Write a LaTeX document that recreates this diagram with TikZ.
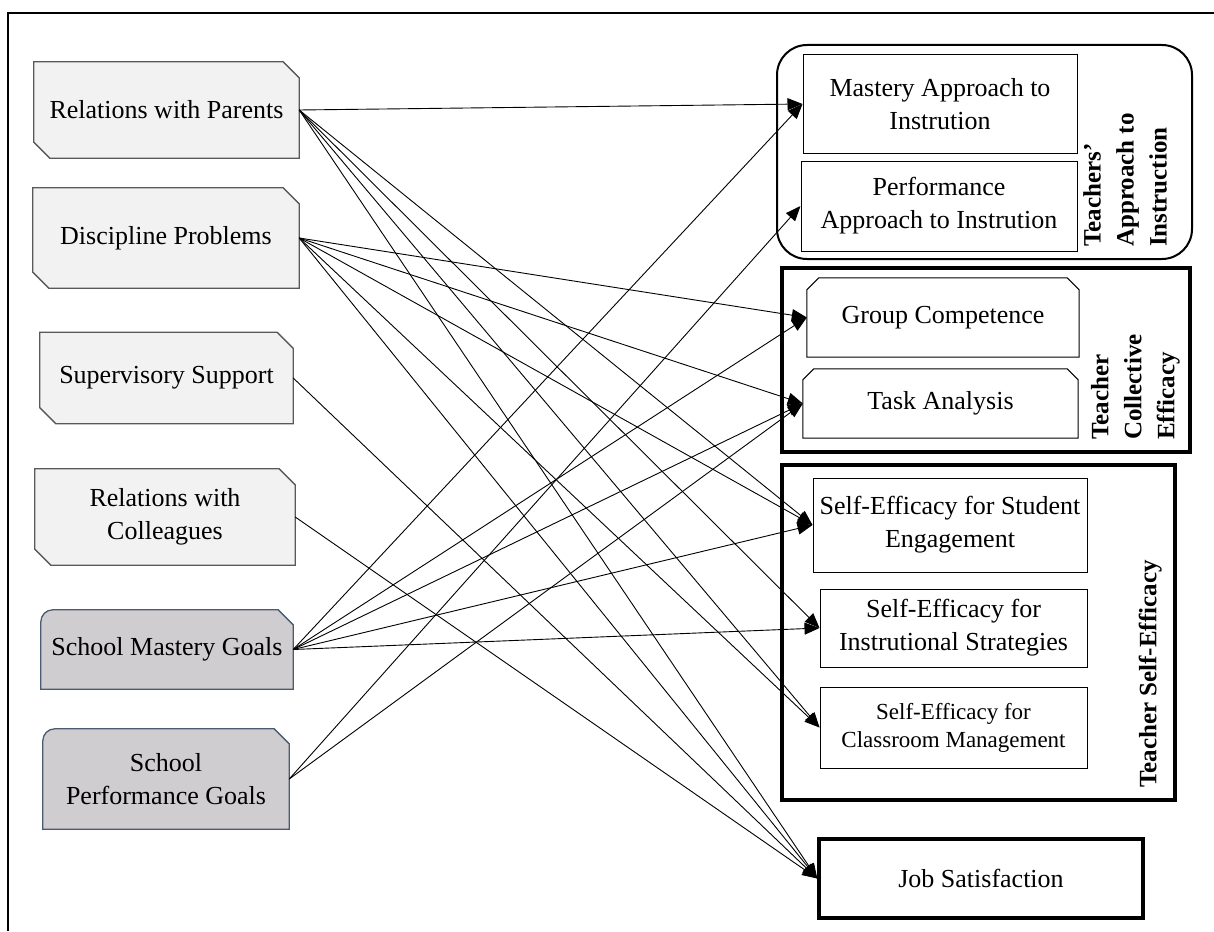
\documentclass[tikz,border=0pt]{standalone}
\usepackage{fontspec}
\setmainfont{Liberation Serif}
\usetikzlibrary{arrows.meta,positioning,backgrounds}
\definecolor{CauseFill}{HTML}{F2F2F2}
\definecolor{CauseLine}{HTML}{595959}
\definecolor{GoalFill}{HTML}{CFCDCF}
\definecolor{GoalLine}{HTML}{4A5A70}
\tikzset{
  cause/.style={rectangle, inner sep=0pt, align=center, font=\fontsize{26}{33}\selectfont},
  causeshape/.style={draw=CauseLine, fill=CauseFill, line width=1.3pt},
  goalshape/.style={draw=GoalLine, fill=GoalFill, line width=1.3pt},
  outbox/.style={rectangle, draw, line width=1pt, inner sep=0pt, align=center, font=\fontsize{26}{33}\selectfont},
  groupframe/.style={draw, line width=4.5pt},
  grouplabel/.style={rotate=90, anchor=south west, inner sep=0pt, align=left, font=\bfseries\fontsize{25}{33}\selectfont},
  conn/.style={-{Triangle[length=15pt,width=12pt]}, line width=0.9pt},
}
\begin{document}
\begin{tikzpicture}[x=1pt,y=-1pt]
  \useasboundingbox (0,0) rectangle (1214,931);
  \draw[line width=2pt] (8,931) -- (8,13) -- (1214,13);

  % antecedents
  \node[cause, minimum width=265pt, minimum height=96pt] (rp) at (166.5,110) {Relations with Parents};
  \node[cause, minimum width=266pt, minimum height=100pt] (dp) at (166,238) {Discipline Problems};
  \node[cause, minimum width=253pt, minimum height=91pt] (ss) at (166.5,378) {Supervisory Support};
  \node[cause, minimum width=260pt, minimum height=96pt] (rc) at (165,517) {Relations with\\Colleagues};
  \node[cause, minimum width=252pt, minimum height=79pt] (smg) at (167,649.5) {School Mastery Goals};
  \node[cause, minimum width=246pt, minimum height=100pt] (spg) at (166,779) {School\\Performance Goals};

  \begin{scope}[on background layer]
    \foreach \n in {rp,dp,ss,rc}
      \filldraw[causeshape] ([xshift=16pt]\n.south west) -- (\n.south east) -- ([yshift=-16pt]\n.north east)
        -- ([xshift=-16pt]\n.north east) -- (\n.north west) -- ([yshift=16pt]\n.south west) -- cycle;
    \foreach \n in {smg,spg}
      \filldraw[goalshape] (\n.south west) -- ([yshift=-12pt]\n.north west) arc[start angle=180, end angle=90, radius=12pt]
        -- ([xshift=-15pt]\n.north east) -- ([yshift=-15pt]\n.north east) -- (\n.south east) -- cycle;
  \end{scope}

  % teachers' approach to instruction
  \draw[line width=2pt, rounded corners=30pt] (777,45) rectangle (1192,259);
  \node[outbox, minimum width=274pt, minimum height=98pt] (mai) at (940,104) {Mastery Approach to\\Instrution};
  \node[outbox, minimum width=276pt, minimum height=90pt] (pai) at (939,206) {Performance\\Approach to Instrution};
  \node[grouplabel] (tailab) at (1167,247) {Teachers’\\Approach to\\Instruction};

  % collective efficacy
  \draw[groupframe, line width=4pt] (782,268) rectangle (1190,452);
  \node[rectangle, inner sep=0pt, align=center, font=\fontsize{26}{33}\selectfont,
        minimum width=272pt, minimum height=79pt] (gc) at (943,317.5) {Group Competence};
  \node[rectangle, inner sep=0pt, align=center, font=\fontsize{26}{33}\selectfont,
        minimum width=275pt, minimum height=69pt] (ta) at (940.5,403.5) {Task Analysis};
  \foreach \n/\c in {gc/12pt,ta/11pt}
    \draw[line width=1pt] (\n.south west) -- ([yshift=-\c]\n.north west) -- ([xshift=\c]\n.north west)
      -- ([xshift=-\c]\n.north east) -- ([yshift=-\c]\n.north east) -- (\n.south east) -- cycle;
  \node[grouplabel] (tcelab) at (1180,440) {Teacher\\Collective\\Efficacy};

  % self-efficacy
  \draw[groupframe] (782,465) rectangle (1175,800);
  \node[outbox, minimum width=274pt, minimum height=94pt] (sestu) at (950,525) {Self-Efficacy for Student\\Engagement};
  \node[outbox, minimum width=267pt, minimum height=78pt] (seins) at (953.5,628) {Self-Efficacy for\\Instrutional Strategies};
  \node[outbox, minimum width=267pt, minimum height=81pt, font=\fontsize{23}{28}\selectfont] (secla) at (953.5,727.5) {Self-Efficacy for\\Classroom Management};
  \node[grouplabel, align=center] (tselab) at (1162,788) {Teacher Self-Efficacy};

  % outcome
  \node[outbox, line width=3.5pt, minimum width=324pt, minimum height=79pt] (js) at (981,878.5) {Job Satisfaction};

  % paths
  \foreach \t in {mai,sestu,seins,secla,js}
    \draw[conn] (rp.east) -- (\t.west);
  \foreach \t in {gc,ta,sestu,secla,js}
    \draw[conn] (dp.east) -- (\t.west);
  \draw[conn] (ss.east) -- (js.west);
  \draw[conn] (rc.east) -- (js.west);
  \foreach \t in {mai,gc,ta,sestu,seins}
    \draw[conn] (smg.east) -- (\t.west);
  \foreach \t in {pai,ta}
    \draw[conn] (spg.east) -- (\t.west);
\end{tikzpicture}
\end{document}
